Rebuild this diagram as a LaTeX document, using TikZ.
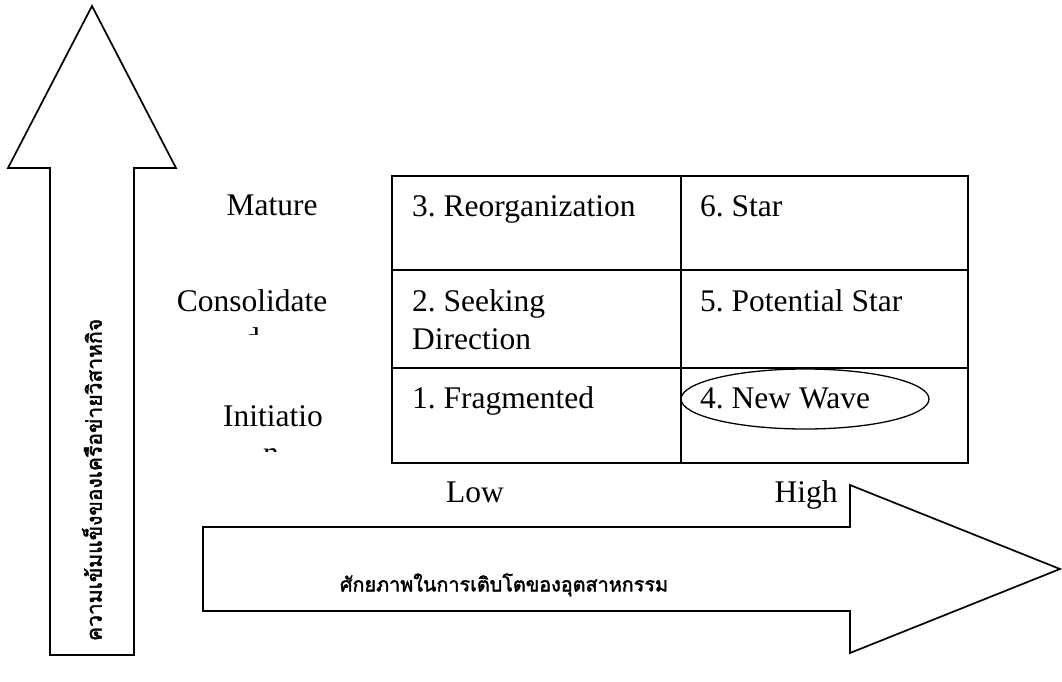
\documentclass[tikz,border=0pt]{standalone}
\usepackage{fontspec}
\usepackage{graphicx}
\usetikzlibrary{shapes.geometric}
\setmainfont{Liberation Serif}
\newfontfamily\thaifont[Script=Thai,AutoFakeBold=2]{Loma}
\frenchspacing
\begin{document}
\begin{tikzpicture}[x=1pt,y=-1pt,
  bigarrow/.style={draw=black,line width=1.7pt,line join=miter,fill=white},
  gridline/.style={draw=black,line width=1.7pt},
  lbl/.style={font=\fontsize{31.5}{38}\selectfont,inner sep=0pt,anchor=base},
  celltxt/.style={lbl,anchor=base west,align=left},
  thailbl/.style={inner sep=0pt},
]
\useasboundingbox (0,0) rectangle (1062,682);
% arrows
\draw[bigarrow] (50,655) -- (50,168) -- (8,168) -- (92,6) -- (176,168) -- (134,168) -- (134,655) -- cycle;
\draw[bigarrow] (203,527) -- (850,527) -- (850,485) -- (1060,569) -- (850,653) -- (850,611) -- (203,611) -- cycle;
% grid
\draw[gridline] (392,176) rectangle (968,463);
\draw[gridline] (681,176) -- (681,463);
\draw[gridline] (392,270) -- (968,270);
\draw[gridline] (392,368) -- (968,368);
% cell texts
\node[celltxt] (c3) at (412,216) {3. Reorganization};
\node[celltxt] (c6) at (700,216) {6. Star};
\node[celltxt] (c2) at (412,311) {2. Seeking};
\node[celltxt] (c2b) at (412,349) {Direction};
\node[celltxt] (c5) at (700,311) {5. Potential Star};
\node[celltxt] (c1) at (412,408) {1. Fragmented};
\node[celltxt] (c4) at (700,408) {4. New Wave};
\node[draw,ellipse,line width=1.3pt,minimum width=248pt,minimum height=60pt,inner sep=0pt] (nw) at (805,399) {};
% row labels
\node[lbl] (mature) at (272,215) {Mature};
\node[lbl] (cons) at (252,311) {Consolidate};
\begin{scope}
\clip (200,315) rectangle (320,334);
\node[lbl] (consd) at (252,349) {d};
\end{scope}
\node[lbl] (init) at (273,426) {Initiatio};
\begin{scope}
\clip (200,435) rectangle (340,451);
\node[lbl] (initn) at (271,463) {n};
\end{scope}
% column labels
\node[lbl] (low) at (475,502) {Low};
\node[lbl] (high) at (806,502) {High};
% Thai labels
\node[thailbl] (xlab) at (504,585) {\resizebox{328pt}{!}{\thaifont\bfseries ศักยภาพในการเติบโตของอุตสาหกรรม}};
\node[thailbl,rotate=90] (ylab) at (92,480) {\resizebox{322pt}{!}{\thaifont\bfseries ความเข้มแข็งของเครือข่ายวิสาหกิจ}};
\end{tikzpicture}
\end{document}
